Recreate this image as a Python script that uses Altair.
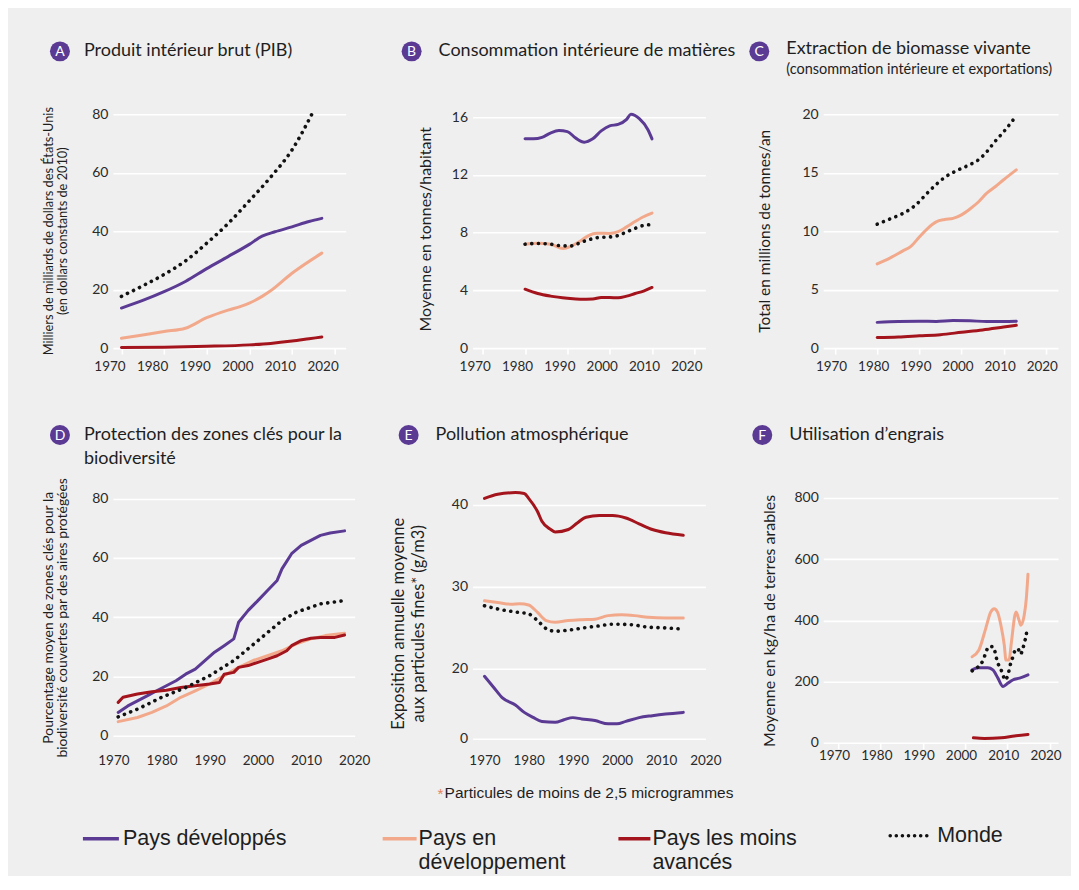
import altair as alt
import pandas as pd

BG = "#efefef"
PURPLE = "#5b3a94"
ORANGE = "#f2a98b"
RED = "#a3141c"
DOT = "#111111"
FONT = "Lato"
TXT = "#1e1e1e"

SERIES = ["Pays développés", "Pays en développement", "Pays les moins avancés", "Monde"]
X_TICKS = [1970, 1980, 1990, 2000, 2010, 2020]

# ---------------- A : PIB ----------------
A_dev_years = [1970, 1975, 1980, 1985, 1990, 1995, 2000, 2003, 2006, 2010, 2014, 2017]
A_dev = [13.7, 16.3, 19.3, 22.8, 27.2, 31.3, 35.5, 38.3, 39.8, 41.5, 43.3, 44.4]
A_ing_years = [1970, 1975, 1980, 1985, 1990, 1995, 1998, 2000, 2003, 2005, 2010, 2017]
A_ing = [3.4, 4.5, 5.7, 6.8, 10.4, 13.0, 14.3, 15.4, 17.7, 19.6, 25.6, 32.5]
A_pma_years = [1970, 1980, 1990, 2000, 2005, 2010, 2014, 2017]
A_pma = [0.2, 0.3, 0.6, 1.1, 1.6, 2.4, 3.2, 3.8]
A_monde_years = [1970, 1975, 1980, 1985, 1990, 1995, 2000, 2005, 2010, 2015]
A_monde = [17.7, 21.3, 25.2, 29.8, 35.9, 42.6, 50.4, 58.5, 67.8, 81.0]

# ---------------- B : Consommation intérieure de matières ----------------
B_dev_years = [1980, 1982, 1984, 1986, 1988, 1990, 1992, 1994, 1996, 1998, 2000, 2002, 2004, 2005, 2007, 2009, 2010]
B_dev = [14.5, 14.5, 14.6, 14.9, 15.07, 15.0, 14.55, 14.27, 14.5, 15.05, 15.4, 15.5, 15.85, 16.2, 15.9, 15.15, 14.5]
B_ing_years = [1980, 1983, 1986, 1989, 1991, 1993, 1995, 1997, 2000, 2002, 2004, 2006, 2008, 2010]
B_ing = [7.2, 7.26, 7.2, 6.9, 7.08, 7.4, 7.8, 7.96, 7.94, 8.07, 8.4, 8.77, 9.1, 9.35]
B_pma_years = [1980, 1983, 1986, 1990, 1993, 1996, 1998, 2000, 2002, 2004, 2006, 2008, 2010]
B_pma = [4.08, 3.78, 3.6, 3.45, 3.38, 3.4, 3.5, 3.5, 3.48, 3.6, 3.78, 3.95, 4.2]
B_monde_years = [1980, 1983, 1986, 1989, 1991, 1993, 1995, 1997, 2000, 2002, 2004, 2006, 2008, 2009.5]
B_monde = [7.2, 7.25, 7.2, 7.08, 7.08, 7.3, 7.5, 7.65, 7.7, 7.8, 8.05, 8.3, 8.5, 8.55]

# ---------------- C : Extraction de biomasse vivante ----------------
C_dev_years = [1980, 1985, 1990, 1994, 1998, 2002, 2006, 2010, 2013]
C_dev = [2.2, 2.28, 2.3, 2.28, 2.35, 2.33, 2.28, 2.28, 2.3]
C_ing_years = [1980, 1983, 1986, 1988, 1990, 1992, 1994, 1996, 1998, 2000, 2002, 2004, 2006, 2008, 2010, 2013]
C_ing = [7.2, 7.7, 8.3, 8.7, 9.5, 10.25, 10.8, 11.0, 11.1, 11.4, 11.9, 12.5, 13.25, 13.8, 14.4, 15.25]
C_pma_years = [1980, 1985, 1990, 1995, 2000, 2005, 2010, 2013]
C_pma = [0.9, 0.95, 1.05, 1.15, 1.35, 1.55, 1.8, 1.95]
C_monde_years = [1980, 1983, 1986, 1989, 1992, 1994, 1996, 1999, 2002, 2004, 2006, 2008, 2010, 2012, 2013]
C_monde = [10.6, 11.05, 11.5, 12.2, 13.3, 14.0, 14.6, 15.2, 15.7, 16.1, 16.8, 17.7, 18.5, 19.4, 19.9]

# ---------------- D : Protection des zones clés ----------------
D_dev_years = [1971, 1973, 1975, 1977, 1979, 1981, 1983, 1985, 1987, 1989, 1991, 1993, 1995, 1996, 1998,
               2000, 2002, 2004, 2005, 2007, 2009, 2011, 2013, 2015, 2018]
D_dev = [7.9, 10.1, 11.8, 13.5, 15.2, 16.9, 18.6, 20.8, 22.5, 25.4, 28.2, 30.4, 32.7, 38.3, 42.3,
         45.6, 49.0, 52.4, 56.3, 61.4, 64.2, 65.9, 67.6, 68.4, 69.1]
D_ing_years = [1971, 1975, 1978, 1981, 1984, 1987, 1990, 1993, 1996, 1999, 2002, 2005, 2008, 2011, 2014, 2018]
D_ing = [4.8, 6.2, 7.9, 10.1, 13.0, 15.2, 17.5, 20.3, 23.1, 25.4, 27.0, 28.7, 31.0, 32.7, 33.8, 34.6]
D_pma_years = [1971, 1972, 1975, 1978, 1981, 1984, 1987, 1990, 1992, 1993, 1995, 1996, 1998, 2000,
               2002, 2004, 2006, 2007, 2009, 2011, 2013, 2016, 2018]
D_pma = [11.3, 13.0, 14.1, 14.9, 15.4, 16.3, 16.9, 17.5, 18.0, 20.8, 21.4, 23.1, 23.7, 24.8,
         25.9, 27.0, 28.7, 30.4, 32.1, 32.9, 33.2, 33.2, 34.0]
D_monde_years = [1971, 1975, 1980, 1985, 1990, 1995, 2000, 2005, 2008, 2010, 2013, 2018]
D_monde = [6.4, 9.0, 13.0, 16.3, 20.3, 25.4, 32.1, 38.9, 41.7, 42.8, 44.5, 45.6]

# ---------------- E : Pollution atmosphérique ----------------
E_dev_years = [1970, 1972, 1974, 1977, 1979, 1981, 1983, 1986, 1988, 1990, 1992, 1995, 1998, 2000, 2002,
               2005, 2008, 2011, 2015]
E_dev = [19.1, 17.8, 16.5, 15.6, 14.7, 14.1, 13.6, 13.5, 13.8, 14.06, 13.9, 13.7, 13.3, 13.3, 13.6,
         14.06, 14.3, 14.5, 14.7]
E_ing_years = [1970, 1973, 1976, 1978, 1980, 1982, 1984, 1986, 1989, 1992, 1995, 1998, 2001, 2004, 2007, 2011, 2015]
E_ing = [28.3, 28.1, 27.9, 27.96, 27.8, 26.9, 25.9, 25.7, 25.9, 26.0, 26.06, 26.5, 26.6, 26.5, 26.3, 26.2, 26.2]
E_pma_years = [1970, 1973, 1977, 1979, 1980, 1982, 1983, 1985, 1986, 1989, 1991, 1993, 1996, 1999, 2002,
               2005, 2008, 2011, 2015]
E_pma = [40.8, 41.3, 41.5, 41.4, 40.8, 39.2, 38.0, 37.0, 36.7, 37.0, 37.8, 38.5, 38.7, 38.7, 38.4,
         37.7, 37.0, 36.6, 36.3]
E_monde_years = [1970, 1974, 1977, 1980, 1982, 1984, 1986, 1990, 1993, 1996, 1999, 2003, 2007, 2011, 2015]
E_monde = [27.7, 27.2, 26.95, 26.7, 25.9, 24.9, 24.6, 24.8, 25.05, 25.25, 25.45, 25.4, 25.1, 25.0, 24.85]
E_y_ticks = [11.5, 20, 30, 40]

# ---------------- F : Utilisation d'engrais ----------------
F_dev_years = [2001.7, 2003.1, 2005.4, 2006.6, 2007.8, 2009, 2010.2, 2011.3, 2012.9, 2014.9]
F_dev = [238, 245, 245, 238, 211, 184, 195, 205, 211, 222]
F_ing_years = [2001.7, 2003.3, 2004.9, 2006.1, 2006.9, 2007.7, 2008.5, 2009.3, 2009.7, 2010.4, 2011,
               2011.8, 2012.1, 2012.8, 2013.2, 2014, 2014.5, 2014.9]
F_ing = [281, 303, 373, 427, 438, 427, 384, 319, 270, 270, 330, 416, 427, 400, 384, 416, 470, 551]
F_pma_years = [2002, 2004.6, 2008.6, 2011.7, 2014.9]
F_pma = [16, 14, 16, 22, 27]
F_monde_years = [2001.7, 2003.2, 2004.3, 2005, 2005.6, 2006.6, 2007.2, 2007.6, 2008.4, 2009, 2009.4,
                 2010.2, 2010.6, 2011.1, 2011.7, 2012.5, 2013.1, 2013.7, 2014.1, 2014.5, 2014.7]
F_monde = [235, 249, 270, 297, 314, 314, 292, 267, 243, 222, 205, 222, 249, 270, 297, 308, 289, 308,
           330, 353, 378]

LEGEND_LABELS = [["Pays développés"], ["Pays en", "développement"], ["Pays les moins", "avancés"], ["Monde"]]
FOOTNOTE = "Particules de moins de 2,5 microgrammes"


def frame(dev, ing, pma, monde):
    rows = []
    for name, (yrs, vals) in zip(SERIES, [dev, ing, pma, monde]):
        for yr, v in zip(yrs, vals):
            rows.append({"year": yr, "value": v, "series": name})
    return pd.DataFrame(rows)


ONE = pd.DataFrame({"k": [0]})


def deco_text(x, y, text, size, color=TXT, align="left", angle=0, line_height=None, font=FONT,
              limit=None):
    kw = dict(align=align, baseline="middle", fontSize=size, color=color, font=font)
    if angle:
        kw["angle"] = angle
    if line_height:
        kw["lineHeight"] = line_height
    if limit:
        kw["limit"] = limit
        kw["ellipsis"] = ""
    return alt.Chart(ONE).mark_text(**kw).encode(
        x=alt.value(x), y=alt.value(y), text=alt.value(text))


def panel(df, xdom, ydom, yvals, width, height, interp, letter, lpos, titles,
          ytitle, ypos, label_offset=0, xticks=True, ylabel_expr=None, ytitle_size=12.5,
          ytitle_lh=14, x_label_pad=4, extra=None):
    yaxis = dict(values=yvals, grid=True, gridColor="white", gridWidth=1.6, ticks=False,
                 domain=False, labelPadding=5, labelFontSize=14, labelFont=FONT,
                 labelColor="#2a2a2a", title=None)
    if ylabel_expr:
        yaxis["labelExpr"] = ylabel_expr
    xaxis = dict(values=X_TICKS, format="d", grid=False, domain=False, ticks=True,
                 tickColor="white", tickWidth=1.6, tickSize=6, tickOpacity=1 if xticks else 0,
                 labelPadding=x_label_pad, labelFontSize=13.5, labelFont=FONT, labelColor="#2a2a2a",
                 labelFlush=False, labelOverlap=False, labelOffset=label_offset, title=None)
    base = alt.Chart(df)
    solid = base.transform_filter(alt.datum.series != "Monde").mark_line(
        strokeWidth=3, interpolate=interp, strokeCap="round", strokeJoin="round"
    ).encode(
        x=alt.X("year:Q", scale=alt.Scale(domain=xdom, nice=False, zero=False), axis=alt.Axis(**xaxis)),
        y=alt.Y("value:Q", scale=alt.Scale(domain=ydom, nice=False, zero=False), axis=alt.Axis(**yaxis)),
        color=alt.Color("series:N", scale=alt.Scale(domain=SERIES[:3], range=[PURPLE, ORANGE, RED]),
                        legend=None),
    )
    dotted = base.transform_filter(alt.datum.series == "Monde").mark_line(
        strokeWidth=3.6, strokeDash=[0.1, 6.6], strokeCap="round", color=DOT, interpolate=interp
    ).encode(x="year:Q", y="value:Q")
    circle = alt.Chart(ONE).mark_circle(size=400, color=PURPLE, opacity=1).encode(
        x=alt.value(lpos[0]), y=alt.value(lpos[1]))
    letter_t = deco_text(lpos[0], lpos[1] + 0.5, letter, 14, color="white", align="center")
    layers = [solid, dotted, circle, letter_t]
    for (tx, ty, txt, sz, lim) in titles:
        layers.append(deco_text(tx, ty, txt, sz, limit=lim))
    layers.append(deco_text(ypos[0], ypos[1], ytitle, ytitle_size, align="center", angle=270,
                            line_height=ytitle_lh))
    if extra:
        layers.extend(extra)
    return alt.layer(*layers).properties(width=width, height=height)


TOP_H = 234
BOT_H = 245
TS = 18  # panel title size

# anchors fixing the canvas extent (same colour as background)
anchor_tl = alt.Chart(ONE).mark_rule(color=BG, strokeWidth=1).encode(
    x=alt.value(-104), x2=alt.value(-104), y=alt.value(-105), y2=alt.value(-104))
anchor_br = alt.Chart(ONE).mark_rule(color=BG, strokeWidth=1).encode(
    x=alt.value(247), x2=alt.value(247), y=alt.value(376), y2=alt.value(377))

pA = panel(frame((A_dev_years, A_dev), (A_ing_years, A_ing), (A_pma_years, A_pma), (A_monde_years, A_monde)),
           [1968, 2022.6], [0, 80], [0, 20, 40, 60, 80], 233, TOP_H, "monotone",
           "A", (-53, -63), [(-29, -63, "Produit intérieur brut (PIB)", TS, None)],
           ["Milliers de milliards de dollars des États-Unis", "(en dollars constants de 2010)"],
           (-64, 117), label_offset=-12, x_label_pad=5, ytitle_size=12.8, ytitle_lh=14,
           extra=[anchor_tl])

pB = panel(frame((B_dev_years, B_dev), (B_ing_years, B_ing), (B_pma_years, B_pma), (B_monde_years, B_monde)),
           [1967.6, 2022.6], [0, 16.2], [0, 4, 8, 12, 16], 233, TOP_H, "monotone",
           "B", (-61, -63), [(-34, -63, "Consommation intérieure de matières", TS, None)],
           "Moyenne en tonnes/habitant", (-47, 115), label_offset=-8, x_label_pad=5, ytitle_size=16)

pC = panel(frame((C_dev_years, C_dev), (C_ing_years, C_ing), (C_pma_years, C_pma), (C_monde_years, C_monde)),
           [1967.2, 2022.9], [0, 20], [0, 5, 10, 15, 20], 235, TOP_H, "monotone",
           "C", (-64, -63),
           [(-37, -65, "Extraction de biomasse vivante", TS, None),
            (-37, -44, "(consommation intérieure et exportations)", 14.5, 282)],
           "Total en millions de tonnes/an", (-58, 117), label_offset=-4, x_label_pad=5, ytitle_size=15.5)

legend_layers = []
leg_colors = [PURPLE, ORANGE, RED]
leg_x = [(-30, 6, 10), (270, 304, 306), (506, 538, 540)]
for (x0, x1, tx), col, lab in zip(leg_x, leg_colors, LEGEND_LABELS[:3]):
    legend_layers.append(alt.Chart(ONE).mark_rule(color=col, strokeWidth=3.5).encode(
        x=alt.value(x0), x2=alt.value(x1), y=alt.value(341), y2=alt.value(341)))
    legend_layers.append(deco_text(tx, 341, lab, 21.5, font="Liberation Sans", line_height=24))
legend_layers.append(alt.Chart(ONE).mark_rule(color=DOT, strokeWidth=3.5, strokeDash=[0.1, 6],
                                              strokeCap="round").encode(
    x=alt.value(778), x2=alt.value(818), y=alt.value(338), y2=alt.value(338)))
legend_layers.append(deco_text(825, 338, LEGEND_LABELS[3], 21.5, font="Liberation Sans"))

pD = panel(frame((D_dev_years, D_dev), (D_ing_years, D_ing), (D_pma_years, D_pma), (D_monde_years, D_monde)),
           [1969.9, 2020.1], [-2.3, 80.2], [0, 20, 40, 60, 80], 242, BOT_H, "linear",
           "D", (-53, -63),
           [(-29, -63, "Protection des zones clés pour la", TS, None),
            (-29, -39, "biodiversité", TS, None)],
           ["Pourcentage moyen de zones clés pour la",
            "biodiversité couvertes par des aires protégées"],
           (-64, 120), xticks=False, x_label_pad=5, ytitle_size=14, ytitle_lh=14.5,
           extra=legend_layers)

foot = [deco_text(-35, 296, "*", 15.5, color="#e8825c", font="Liberation Sans"),
        deco_text(-28, 295, FOOTNOTE, 15.5, color=TXT, font="Liberation Sans")]

pE = panel(frame((E_dev_years, E_dev), (E_ing_years, E_ing), (E_pma_years, E_pma), (E_monde_years, E_monde)),
           [1967.3, 2020], [11.0, 40.85], E_y_ticks, 233, BOT_H, "monotone",
           "E", (-64, -63), [(-37, -63, "Pollution atmosphérique", TS, None)],
           ["Exposition annuelle moyenne", "aux particules fines* (g/m3)"],
           (-74, 126), xticks=False, x_label_pad=5,
           ylabel_expr="datum.value < 15 ? '0' : datum.label", ytitle_size=16.5, ytitle_lh=20,
           extra=foot)

pF = panel(frame((F_dev_years, F_dev), (F_ing_years, F_ing), (F_pma_years, F_pma), (F_monde_years, F_monde)),
           [1966.5, 2022], [0, 800], [0, 200, 400, 600, 800], 235, BOT_H, "monotone",
           "F", (-61, -63), [(-34, -63, "Utilisation d’engrais", TS, None)],
           "Moyenne en kg/ha de terres arables", (-53, 123), label_offset=-4, x_label_pad=0,
           ytitle_size=16, extra=[anchor_br])

chart = alt.concat(pA, pB, pC, pD, pE, pF, columns=3, bounds="flush",
                   spacing={"row": 150, "column": 118}).properties(
    background=BG, padding=0
).configure_view(stroke=None)

chart.save("out.html", embed_options={"renderer": "svg", "actions": False})
